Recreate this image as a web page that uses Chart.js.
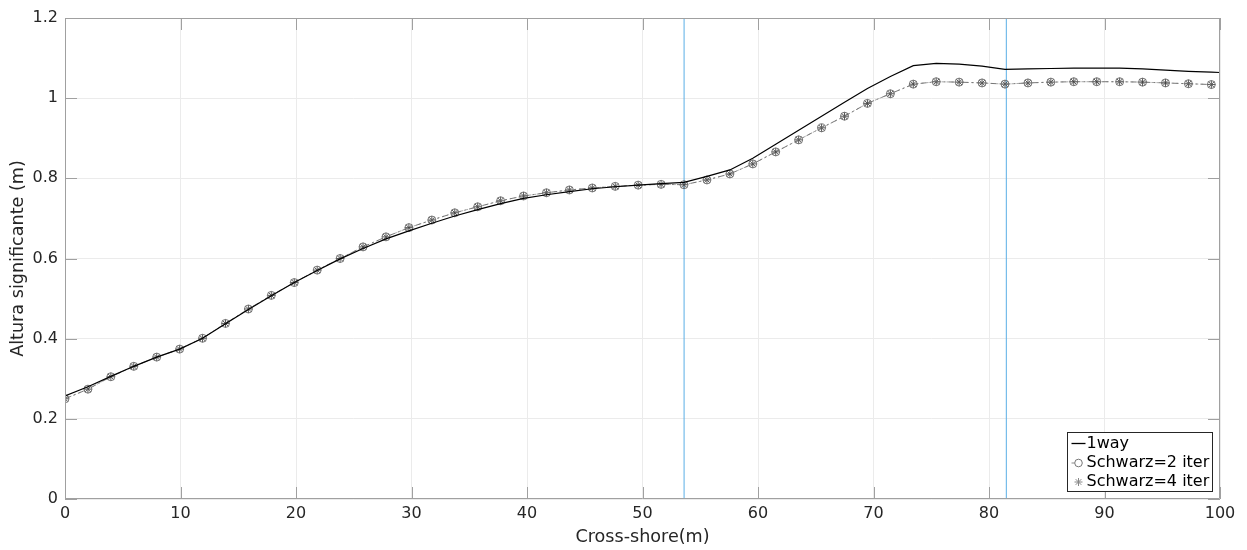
<!DOCTYPE html>
<html>
<head>
<meta charset="utf-8">
<script src="https://cdn.jsdelivr.net/npm/chart.js@4.4.1/dist/chart.umd.min.js"></script>
<style>
html,body{margin:0;padding:0;background:#fff;}
#wrap{width:1247px;height:550px;position:relative;}
</style>
</head>
<body>
<div id="wrap"><canvas id="c" width="1247" height="550"></canvas></div>
<script>
// ---- data ----
const markerStep = 1.985;
const schwarz2Y = [0.250,0.274,0.305,0.331,0.354,0.374,0.401,0.438,0.474,0.508,
  0.540,0.571,0.600,0.629,0.654,0.677,0.696,0.714,0.729,0.744,
  0.756,0.764,0.771,0.776,0.780,0.783,0.785,0.784,0.796,0.811,
  0.836,0.866,0.896,0.926,0.955,0.987,1.011,1.035,1.041,1.040,
  1.038,1.035,1.038,1.040,1.041,1.041,1.041,1.040,1.038,1.036,1.034];
const schwarz4Y = schwarz2Y.slice();
const markerX = schwarz2Y.map((_, i) => +(i * markerStep).toFixed(3));
const oneWayY = [0.257,0.280,0.306,0.331,0.354,0.374,0.401,0.437,0.473,0.507,
  0.540,0.570,0.599,0.625,0.649,0.669,0.688,0.706,0.722,0.737,
  0.750,0.759,0.767,0.774,0.779,0.783,0.787,0.790,0.805,0.821,
  0.850,0.885,0.920,0.955,0.990,1.024,1.054,1.081,1.087,1.085,
  1.080,1.072,1.073,1.074,1.075,1.075,1.075,1.073,1.070,1.067,1.065,1.064];
const oneWayX = markerX.concat([100]);
const vLinesX = [53.6, 81.5];
const xTicks = [0,10,20,30,40,50,60,70,80,90,100];
const yTicks = [0,0.2,0.4,0.6,0.8,1,1.2];
const labels = ['1way','Schwarz=2 iter','Schwarz=4 iter'];

const pts = (xs, ys) => ys.map((y, i) => ({x: xs[i], y}));
const FONT = 'DejaVu Sans';
const AX = '#262626';
const FRAME = '#a0a0a0';

const vDatasets = vLinesX.map(v => ({
  label: '', data: [{x: v, y: 0}, {x: v, y: 1.2}], showLine: true,
  borderColor: '#5aaee6', borderWidth: 1, pointRadius: 0, order: 10
}));

function asterisk(ctx, cx, cy, r) {
  const d = r * 0.707;
  ctx.beginPath();
  ctx.moveTo(cx - r, cy); ctx.lineTo(cx + r, cy);
  ctx.moveTo(cx, cy - r); ctx.lineTo(cx, cy + r);
  ctx.moveTo(cx - d, cy - d); ctx.lineTo(cx + d, cy + d);
  ctx.moveTo(cx - d, cy + d); ctx.lineTo(cx + d, cy - d);
  ctx.stroke();
}

const frame = {
  id: 'frame',
  afterDatasetsDraw(chart) {
    const {ctx, chartArea: a, scales} = chart;
    ctx.save();
    ctx.strokeStyle = FRAME;
    ctx.lineWidth = 1;
    ctx.beginPath();
    ctx.rect(Math.round(a.left) + 0.5, Math.round(a.top) + 0.5, Math.round(a.right - a.left) - 1, Math.round(a.bottom - a.top) - 1);
    ctx.stroke();
    // inward ticks
    ctx.beginPath();
    const tl = 12;
    xTicks.forEach(t => {
      const px = Math.round(scales.x.getPixelForValue(t)) + 0.5;
      ctx.moveTo(px, a.bottom); ctx.lineTo(px, a.bottom - tl);
      ctx.moveTo(px, a.top); ctx.lineTo(px, a.top + tl);
    });
    yTicks.forEach(t => {
      const py = Math.round(scales.y.getPixelForValue(t)) + 0.5;
      ctx.moveTo(a.left, py); ctx.lineTo(a.left + tl, py);
      ctx.moveTo(a.right, py); ctx.lineTo(a.right - tl, py);
    });
    ctx.stroke();
    // legend
    const w = 145, h = 59;
    const lx = Math.round(a.right) - 8 - w + 0.5, ly = Math.round(a.bottom) - 8 - h + 0.5;
    ctx.fillStyle = '#fff';
    ctx.fillRect(lx, ly, w, h);
    ctx.strokeStyle = '#262626';
    ctx.strokeRect(lx, ly, w, h);
    ctx.font = '16px "' + FONT + '"';
    ctx.fillStyle = '#000';
    ctx.textBaseline = 'middle';
    const rows = [ly + 11, ly + 30.5, ly + 49.5];
    labels.forEach((t, i) => ctx.fillText(t, lx + 19, rows[i]));
    // sample 1: line
    ctx.strokeStyle = '#000'; ctx.lineWidth = 1.3;
    ctx.beginPath(); ctx.moveTo(lx + 4, rows[0]); ctx.lineTo(lx + 18, rows[0]); ctx.stroke();
    // sample 2: short dash + circle
    ctx.strokeStyle = '#888'; ctx.lineWidth = 1;
    ctx.beginPath(); ctx.moveTo(lx + 4, rows[1]); ctx.lineTo(lx + 7, rows[1]); ctx.stroke();
    ctx.strokeStyle = '#777';
    ctx.beginPath(); ctx.arc(lx + 11, rows[1], 3.8, 0, Math.PI * 2); ctx.stroke();
    // sample 3: asterisk
    ctx.strokeStyle = '#888';
    asterisk(ctx, lx + 11, rows[2], 4);
    ctx.restore();
  }
};

new Chart(document.getElementById('c'), {
  type: 'scatter',
  data: {
    datasets: [
      ...vDatasets,
      { label: labels[2], data: pts(markerX, schwarz4Y), showLine: true,
        borderColor: '#aaa', borderWidth: 1, borderDash: [2, 3],
        pointStyle: 'star', pointRadius: 4, pointBorderColor: '#444', pointBorderWidth: 0.9,
        pointBackgroundColor: 'rgba(0,0,0,0)', order: 3 },
      { label: labels[1], data: pts(markerX, schwarz2Y), showLine: true,
        borderColor: '#777', borderWidth: 1, borderDash: [6, 3, 2, 3],
        pointStyle: 'circle', pointRadius: 4, pointBorderColor: '#666', pointBorderWidth: 0.9,
        pointBackgroundColor: 'rgba(0,0,0,0)', order: 2 },
      { label: labels[0], data: pts(oneWayX, oneWayY), showLine: true,
        borderColor: '#000', borderWidth: 1.2, pointRadius: 0, order: 1 }
    ]
  },
  options: {
    responsive: false, animation: false, devicePixelRatio: 1,
    layout: {padding: {left: 0, right: 27, top: 18, bottom: 0}},
    plugins: {legend: {display: false}, tooltip: {enabled: false}},
    elements: {line: {tension: 0}},
    scales: {
      x: {
        type: 'linear', min: 0, max: 100,
        afterBuildTicks: s => { s.ticks = xTicks.map(v => ({value: v})); },
        afterFit: s => { s.height = 51; },
        grid: {color: '#ebebeb', drawTicks: false},
        border: {display: false},
        ticks: {color: AX, font: {family: FONT, size: 16}, padding: 5, maxRotation: 0},
        title: {display: true, text: 'Cross-shore(m)', color: AX, font: {family: FONT, size: 17.6}, padding: {top: 0, bottom: 2.5}}
      },
      y: {
        type: 'linear', min: 0, max: 1.2,
        afterBuildTicks: s => { s.ticks = yTicks.map(v => ({value: v})); },
        afterFit: s => { s.width = 65; },
        grid: {color: '#ebebeb', drawTicks: false},
        border: {display: false},
        ticks: {color: AX, font: {family: FONT, size: 16}, padding: 7, callback: v => String(+v.toFixed(1))},
        title: {display: true, text: 'Altura significante (m)', color: AX, font: {family: FONT, size: 17.6}, padding: {top: 7.5, bottom: 0}}
      }
    }
  },
  plugins: [frame]
});
</script>
</body>
</html>
